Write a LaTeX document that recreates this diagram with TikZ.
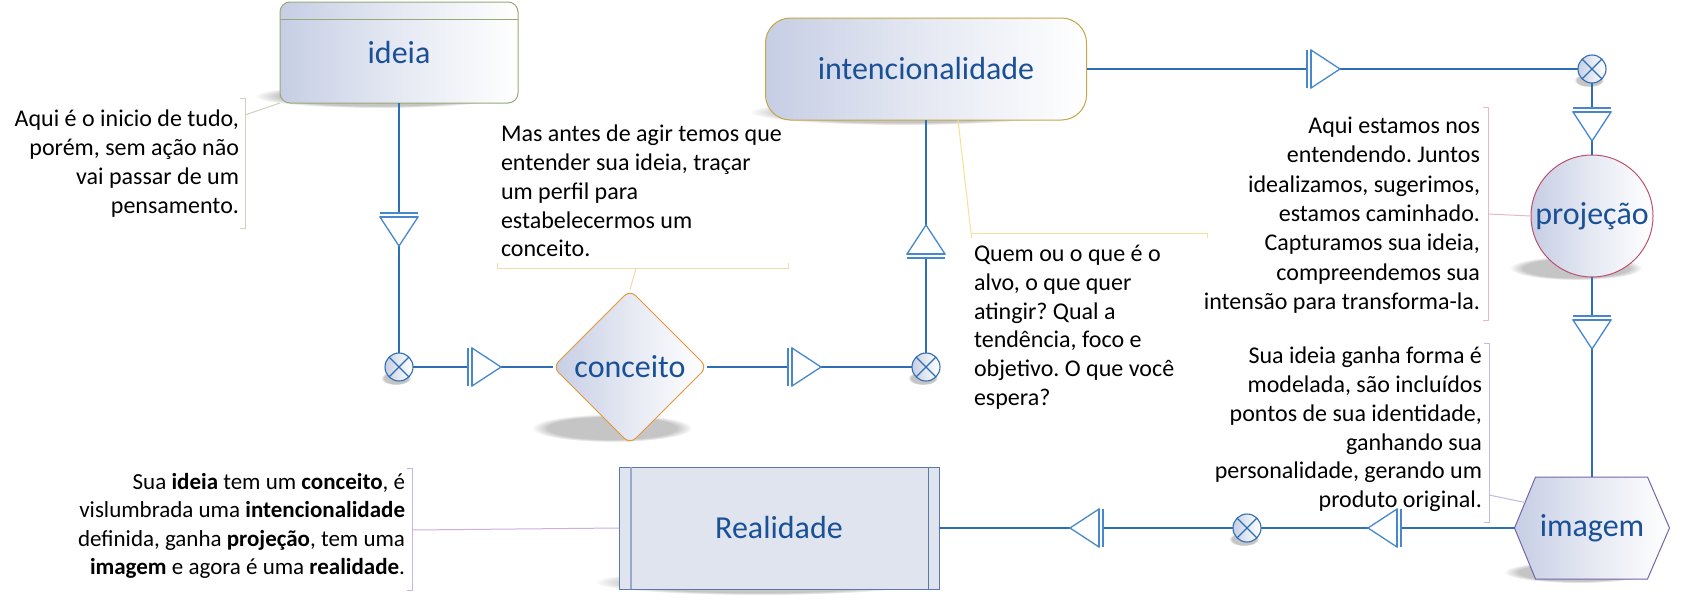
\documentclass[tikz,border=0pt]{standalone}
\usepackage{fontspec}
\setmainfont{Carlito}
\frenchspacing
\usetikzlibrary{shapes.geometric,backgrounds,calc,fadings}
\definecolor{lineblue}{RGB}{46,110,180}
\definecolor{markblue}{RGB}{70,135,205}
\definecolor{txtblue}{RGB}{25,80,150}
\definecolor{shadeA}{RGB}{198,206,228}
\definecolor{bIdeia}{RGB}{150,170,120}
\definecolor{bInt}{RGB}{200,165,70}
\definecolor{bCon}{RGB}{230,150,60}
\definecolor{bProj}{RGB}{190,80,110}
\definecolor{bImg}{RGB}{120,100,170}
\definecolor{bReal}{RGB}{90,120,170}
\definecolor{bRealIn}{RGB}{150,170,205}
\definecolor{fReal}{RGB}{223,228,239}
\definecolor{cA}{RGB}{205,210,190}
\definecolor{cB}{RGB}{245,215,170}
\definecolor{cC}{RGB}{245,225,150}
\definecolor{cD}{RGB}{230,185,200}
\definecolor{cE}{RGB}{195,185,225}
\definecolor{cF}{RGB}{205,175,225}
\definecolor{shadowc}{RGB}{110,110,110}
\tikzset{
  every node/.style={inner sep=0pt, outer sep=0pt},
  lbl/.style={font=\fontsize{32}{38}\selectfont, text=txtblue},
  grad/.style={left color=shadeA, right color=white, middle color=shadeA!45!white},
  ent/.style={lbl, grad, line width=1pt},
  note/.style={font=\fontsize{24}{28.8}\selectfont, text=black},
  conn/.style={draw=lineblue, line width=1.4pt},
  brk/.style={line width=1pt},
  shad/.style={fill=shadowc, fill opacity=0.4, path fading=circle with fuzzy edge 20 percent},
  junc/.style={circle, minimum size=28pt, draw=lineblue, line width=1.1pt, grad,
    path picture={\draw[lineblue, line width=1.1pt]
      (path picture bounding box.south west) -- (path picture bounding box.north east)
      (path picture bounding box.north west) -- (path picture bounding box.south east);}},
  onemark/.pic={
    \fill[white] (0,-19) rectangle (4,19);
    \filldraw[fill=white, draw=markblue, line width=1.3pt] (4,-19) -- (33,0) -- (4,19) -- cycle;
    \draw[markblue, line width=1.3pt] (0,-19) -- (0,19) (4,-19) -- (4,19);
  }
}
\begin{document}
\begin{tikzpicture}[x=1pt,y=-1pt]
\useasboundingbox (0,0) rectangle (1682,600);
\begin{pgfonlayer}{background}
\fill[white] (0,0) rectangle (1682,600);
% soft shadows
\fill[shad] (380,96) ellipse [x radius=125, y radius=12];
\fill[shad] (905,112) ellipse [x radius=155, y radius=13];
\fill[shad] (612,428) ellipse [x radius=80, y radius=14];
\fill[shad] (1576,268) ellipse [x radius=66, y radius=12];
\fill[shad] (1578,572) ellipse [x radius=74, y radius=11];
\fill[shad] (760,582) ellipse [x radius=165, y radius=13];
\fill[shad] (396,378) ellipse [x radius=15, y radius=7];
\fill[shad] (923,378) ellipse [x radius=15, y radius=7];
\fill[shad] (1589,80) ellipse [x radius=15, y radius=7];
\fill[shad] (1244,539) ellipse [x radius=15, y radius=7];
\end{pgfonlayer}

% entities
\node[ent, rounded corners=10pt, draw=bIdeia, minimum width=238pt, minimum height=101pt] (ideia) at (399,52.5) {ideia};
\draw[bIdeia, line width=1pt] ([yshift=-17pt]ideia.north west) -- ([yshift=-17pt]ideia.north east);
\node[ent, rounded corners=25pt, draw=bInt, minimum width=321pt, minimum height=102pt] (int) at (926,69) {intencionalidade};
\node[ent, diamond, aspect=1, draw=bCon, minimum width=154pt, minimum height=154pt, rounded corners=8pt] (con) at (630,367) {conceito};
\node[ent, circle, draw=bProj, minimum size=122pt] (proj) at (1592,216) {projeção};
\node[lbl, minimum width=155pt, minimum height=102pt] (img) at (1592,528) {imagem};
\begin{pgfonlayer}{background}
\path[grad, draw=bImg, line width=1pt]
  (img.west) -- ($(img.north west)+(21,0)$) -- ($(img.north east)+(-22,0)$) -- (img.east)
  -- ($(img.south east)+(-22,0)$) -- ($(img.south west)+(21,0)$) -- cycle;
\end{pgfonlayer}
\node[lbl, draw=bReal, fill=fReal, line width=1pt, minimum width=320pt, minimum height=122pt] (real) at (779,528) {Realidade};
\draw[bRealIn, line width=1.5pt] ($(real.north west)+(12,0)$) -- ($(real.south west)+(12,0)$);
\draw[bReal, line width=1pt] ($(real.north east)+(-11,0)$) -- ($(real.south east)+(-11,0)$);

% junctions
\node[junc] (j1) at (399,367) {};
\node[junc] (j2) at (926,367) {};
\node[junc] (j3) at (1592,69) {};
\node[junc] (j4) at (1247,528) {};

% connectors
\draw[conn] (ideia.south) -- (j1.north);
\draw[conn] (j1.east) -- (con.west);
\draw[conn] (con.east) -- (j2.west);
\draw[conn] (j2.north) -- (int.south);
\draw[conn] (int.east) -- (j3.west);
\draw[conn] (j3.south) -- (proj.north);
\draw[conn] (proj.south) -- (img.north);
\draw[conn] (img.west) -- (j4.east);
\draw[conn] (j4.west) -- (real.east);

% markers
\pic[rotate=-90] at (399,213) {onemark};
\pic at (468,367) {onemark};
\pic at (788,367) {onemark};
\pic[rotate=90] at (926,258) {onemark};
\pic at (1307,69) {onemark};
\pic[rotate=-90] at (1592,108) {onemark};
\pic[rotate=-90] at (1592,316) {onemark};
\pic[rotate=180] at (1401,528) {onemark};
\pic[rotate=180] at (1103,528) {onemark};

% annotations
\node[note, align=right, anchor=north east] (nA) at (239,110) {Aqui é o inicio de tudo,\\porém, sem ação não\\vai passar de um\\pensamento.};
\draw[cA, brk] (240,98) -- (245,98) -- (245,228) -- (240,228);
\coordinate (bA) at (245,115);
\draw[cA, brk] (bA) -- (ideia.south west);

\node[note, align=left, anchor=north west] (nB) at (501,125) {Mas antes de agir temos que\\entender sua ideia, traçar\\um perfil para\\estabelecermos um\\conceito.};
\draw[cB, brk] (497,263) -- (497,268) -- (788,268) -- (788,263);
\coordinate (bB) at (636,268);
\draw[cB, brk] (bB) -- (con.north);

\node[note, align=left, anchor=north west] (nC) at (974,245) {Quem ou o que é o\\alvo, o que quer\\atingir? Qual a\\tendência, foco e\\objetivo. O que você\\espera?};
\draw[cC, brk] (971,238) -- (971,233) -- (1207,233) -- (1207,238);
\coordinate (bC) at (971,233);
\draw[cC, brk] ($(int.south)+(32,0)$) -- (bC);

\node[note, align=right, anchor=north east, font=\fontsize{24}{29.3}\selectfont] (nD) at (1480,117) {Aqui estamos nos\\entendendo. Juntos\\idealizamos, sugerimos,\\estamos caminhado.\\Capturamos sua ideia,\\compreendemos sua\\intensão para transforma-la.};
\draw[cD, brk] (1483,107) -- (1488,107) -- (1488,320) -- (1483,320);
\coordinate (bD) at (1488,214);
\draw[cD, brk] (bD) -- (proj.west);

\node[note, align=right, anchor=north east] (nE) at (1482,347) {Sua ideia ganha forma é\\modelada, são incluídos\\pontos de sua identidade,\\ganhando sua\\personalidade, gerando um\\produto original.};
\draw[cE, brk] (1484,343) -- (1489,343) -- (1489,522) -- (1484,522);
\coordinate (bE) at (1489,495);
\coordinate (imgA) at ($(img.west)!0.5!($(img.north west)+(21,0)$)$);
\draw[cE, brk] (bE) -- (imgA);

\node[note, align=right, anchor=north east, font=\fontsize{23}{28.5}\selectfont] (nF) at (405,473) {Sua \textbf{ideia} tem um \textbf{conceito}, é\\vislumbrada uma \textbf{intencionalidade}\\definida, ganha \textbf{projeção}, tem uma\\\textbf{imagem} e agora é uma \textbf{realidade}.};
\draw[cF, brk] (407,468) -- (412,468) -- (412,590) -- (407,590);
\coordinate (bF) at (412,530);
\draw[cF, brk] (bF) -- (real.west);
\end{tikzpicture}
\end{document}
